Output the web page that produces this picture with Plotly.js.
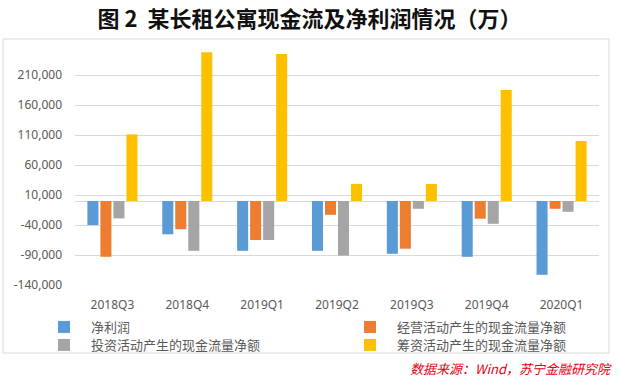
<!DOCTYPE html>
<html>
<head>
<meta charset="utf-8">
<script src="https://cdn.plot.ly/plotly-3.0.1.min.js"></script>
<style>html,body{margin:0;padding:0;background:#fff;}#chart{width:619px;height:377px;}</style>
</head>
<body>
<div id="chart"></div>
<script>
const categories = ['2018Q3','2018Q4','2019Q1','2019Q2','2019Q3','2019Q4','2020Q1'];
const netProfit   = [-40000, -55500, -83000, -83000, -88000, -93000, -123000];
const operatingCF = [-93000, -47000, -65000, -23000, -79500, -29500, -13000];
const investingCF = [-29000, -83000, -65000, -91000, -13000, -38000, -18000];
const financingCF = [111000, 248000, 245000, 28500, 28500, 185000, 100000];
const seriesNames = ['净利润','经营活动产生的现金流量净额','投资活动产生的现金流量净额','筹资活动产生的现金流量净额'];
const tickVals = [-140000,-90000,-40000,10000,60000,110000,160000,210000];
const tickText = ['-140,000','-90,000','-40,000','10,000','60,000','110,000','160,000','210,000'];
const titleText = '图 2  某长租公寓现金流及净利润情况（万）';
const sourceText = '数据来源：Wind，苏宁金融研究院';

const colors = ['#5B9BD5','#ED7D31','#A5A5A5','#FFC000'];
const legendIds = ['legend','legend2','legend3','legend4'];
const values = [netProfit, operatingCF, investingCF, financingCF];
const data = values.map((v,i)=>({
  type:'bar', x:categories, y:v, name:seriesNames[i], legend:legendIds[i],
  marker:{color:colors[i]}, hoverinfo:'none'
}));

const font = 'Noto Sans, "Noto Sans CJK SC", sans-serif';
function leg(px, py){
  return {orientation:'v', xref:'container', yref:'container', x:px/619, y:1-py/377,
          xanchor:'left', yanchor:'middle', itemwidth:44,
          font:{family:'"Noto Sans CJK SC", sans-serif', size:13, color:'#595959'},
          bgcolor:'rgba(0,0,0,0)', borderwidth:0};
}
const layout = {
  width:619, height:377,
  margin:{l:75, r:20, t:48, b:92, autoexpand:false},
  paper_bgcolor:'#fff', plot_bgcolor:'#fff',
  title:{text:titleText, x:0.5, xref:'container', y:0.95, yref:'container', yanchor:'middle',
         font:{family:'"Noto Sans CJK SC", sans-serif', size:22, color:'#111', weight:'bold'}},
  barmode:'group', bargap:0.305, bargroupgap:0.15,
  xaxis:{type:'category', showgrid:false, zeroline:false, showline:false, ticks:'',
         ticklabelstandoff:11, tickfont:{family:font, size:12, color:'#595959'}},
  yaxis:{range:[-140000,255000], tickvals:tickVals, ticktext:tickText, showgrid:true,
         gridcolor:'#D9D9D9', gridwidth:1, zeroline:true, zerolinecolor:'#D9D9D9', zerolinewidth:1,
         showline:false, ticks:'', ticklabelstandoff:12,
         tickfont:{family:font, size:12, color:'#595959'}},
  showlegend:true,
  legend:leg(37,327), legend2:leg(343,327), legend3:leg(37,345), legend4:leg(343,345),
  shapes:[{type:'rect', xref:'paper', yref:'paper', x0:-0.1374, x1:1.019, y0:-0.287, y1:1.038,
           line:{color:'#D9D9D9', width:1}, fillcolor:'rgba(0,0,0,0)', layer:'below'}],
  annotations:[{text:sourceText, xref:'paper', yref:'paper', x:1.0286, y:-0.354, xanchor:'right', yanchor:'middle',
                showarrow:false, font:{family:'"Noto Sans CJK SC", sans-serif', size:13, color:'#E60012', style:'italic'}}]
};
Plotly.newPlot('chart', data, layout, {staticPlot:true, displayModeBar:false});
</script>
</body>
</html>
